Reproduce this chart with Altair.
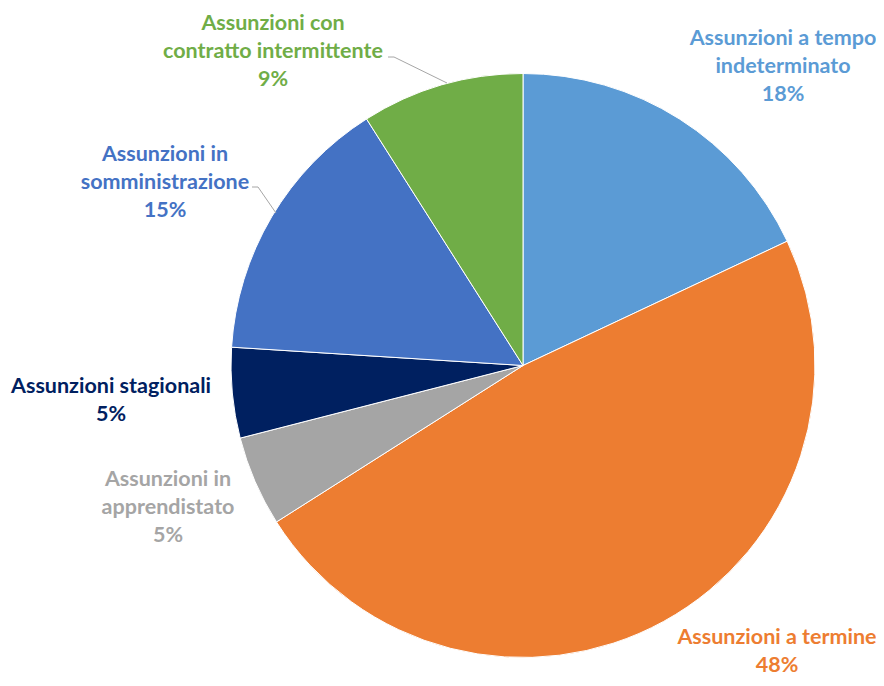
import altair as alt
import pandas as pd

# ---- data ----
categories = [
    "Assunzioni a tempo indeterminato",
    "Assunzioni a termine",
    "Assunzioni in apprendistato",
    "Assunzioni stagionali",
    "Assunzioni in somministrazione",
    "Assunzioni con contratto intermittente",
]
shares = [18, 48, 5, 5, 15, 9]
label_lines = [
    ["Assunzioni a tempo", "indeterminato"],
    ["Assunzioni a termine"],
    ["Assunzioni in", "apprendistato"],
    ["Assunzioni stagionali"],
    ["Assunzioni in", "somministrazione"],
    ["Assunzioni con", "contratto intermittente"],
]

# ---- styles / layout ----
colors = ["#5B9BD5", "#ED7D31", "#A5A5A5", "#002060", "#4472C4", "#70AD47"]
W, H = 868, 670
CX, CY, R = 515, 357.5, 292
# label anchors: centre x, first-line y (chart pixels)
label_pos = [(775, 31), (769, 630), (160, 472), (103, 379), (157, 147), (265, 16)]
# leader lines (chart pixels): category index -> polyline
leaders = {
    5: [(380, 49), (386, 49), (439, 75)],
    4: [(244, 179), (250, 179), (268, 205)],
}

pie_df = pd.DataFrame({"cat": categories, "value": shares, "idx": range(len(categories))})

lab_df = pd.DataFrame({
    "cat": categories,
    "label": ["\n".join(l + [f"{v}%"]) for l, v in zip(label_lines, shares)],
    "lx": [p[0] for p in label_pos],
    "ly": [p[1] for p in label_pos],
})

rows = []
for k, pts in leaders.items():
    for j, (x, y) in enumerate(pts):
        rows.append({"seg": k, "pt": j, "x": x, "y": y})
lead_df = pd.DataFrame(rows)

color_scale = alt.Scale(domain=categories, range=colors)

pie = alt.Chart(pie_df).mark_arc(outerRadius=R, stroke="white", strokeWidth=1).encode(
    theta=alt.Theta("value:Q", stack=True),
    color=alt.Color("cat:N", scale=color_scale, legend=None),
    order=alt.Order("idx:Q"),
    x=alt.value(CX),
    y=alt.value(CY),
)

lines = alt.Chart(lead_df).mark_line(color="#A6A6A6", strokeWidth=1).encode(
    x=alt.X("x:Q", scale=None, axis=None),
    y=alt.Y("y:Q", scale=None, axis=None),
    detail="seg:N",
    order="pt:Q",
)

labels = alt.Chart(lab_df).mark_text(
    font="Lato", fontWeight="bold", fontSize=21.5, lineBreak="\n", lineHeight=28,
    align="center", baseline="middle",
).encode(
    x=alt.X("lx:Q", scale=None, axis=None),
    y=alt.Y("ly:Q", scale=None, axis=None),
    text="label:N",
    color=alt.Color("cat:N", scale=color_scale, legend=None),
)

chart = alt.layer(pie, lines, labels).properties(
    width=W, height=H, padding=0, autosize=alt.AutoSizeParams(type="none"),
    background="white",
).configure_view(stroke=None)

chart.save("out.html", embed_options={"renderer": "svg", "actions": False})
